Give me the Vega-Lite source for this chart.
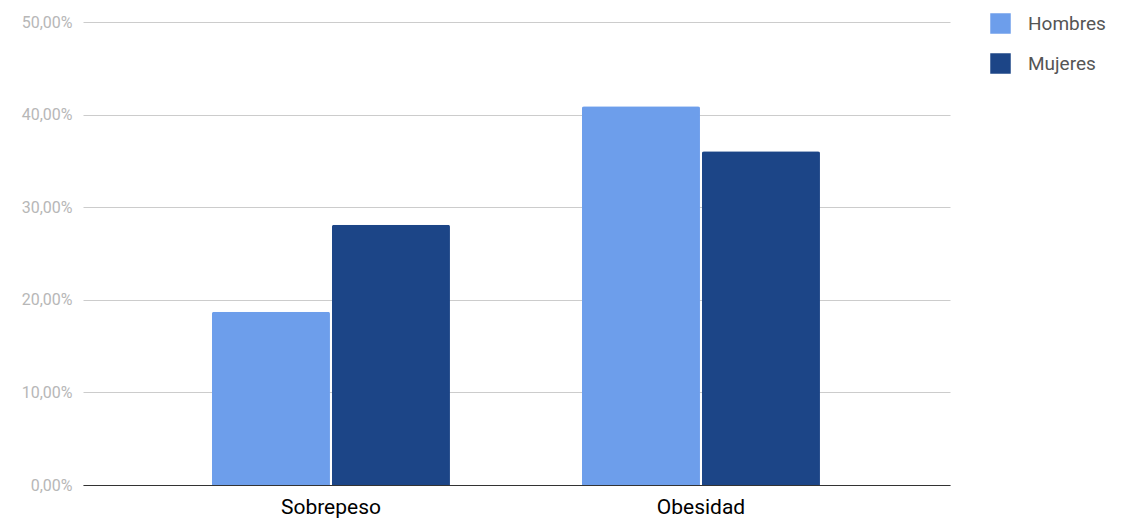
{
  "$schema": "https://vega.github.io/schema/vega-lite/v6.json",
  "autosize": {"type": "none"},
  "padding": {"left": 83, "top": 22, "right": 172, "bottom": 36},
  "width": 867,
  "height": 463,
  "background": "white",
  "data": {
    "values": [
      {"categoria": "Sobrepeso", "sexo": "Hombres", "valor": 0.187},
      {"categoria": "Sobrepeso", "sexo": "Mujeres", "valor": 0.281},
      {"categoria": "Obesidad", "sexo": "Hombres", "valor": 0.409},
      {"categoria": "Obesidad", "sexo": "Mujeres", "valor": 0.3605}
    ]
  },
  "mark": {"type": "bar", "cornerRadiusTopLeft": 2, "cornerRadiusTopRight": 2},
  "encoding": {
    "x": {
      "field": "categoria",
      "type": "nominal",
      "sort": ["Sobrepeso", "Obesidad"],
      "scale": {"paddingInner": 0.3568, "paddingOuter": 0.35, "align": 0.498},
      "axis": {
        "title": null,
        "labelAngle": 0,
        "labelFont": "Roboto",
        "labelFontSize": 21,
        "labelColor": "#000000",
        "labelPadding": 11,
        "ticks": false,
        "domainColor": "#333333",
        "domainWidth": 1
      }
    },
    "xOffset": {
      "field": "sexo",
      "type": "nominal",
      "scale": {"paddingInner": 0.0167, "paddingOuter": 0}
    },
    "y": {
      "field": "valor",
      "type": "quantitative",
      "scale": {"domain": [0, 0.5], "nice": false},
      "axis": {
        "title": null,
        "values": [0, 0.1, 0.2, 0.3, 0.4, 0.5],
        "labelExpr": "replace(format(datum.value, '.2%'), '.', ',')",
        "labelFont": "Roboto",
        "labelFontSize": 16,
        "labelColor": "#b7b7b7",
        "labelPadding": 11,
        "ticks": false,
        "domain": false,
        "gridColor": "#cccccc",
        "gridWidth": 1
      }
    },
    "color": {
      "field": "sexo",
      "type": "nominal",
      "scale": {"domain": ["Hombres", "Mujeres"], "range": ["#6d9eeb", "#1c4587"]},
      "legend": {
        "title": null,
        "orient": "none",
        "legendX": 907,
        "legendY": -9,
        "symbolType": "square",
        "symbolSize": 420,
        "symbolStrokeWidth": 0,
        "symbolOpacity": 1,
        "labelFont": "Roboto",
        "labelFontSize": 19,
        "labelColor": "#555555",
        "labelOffset": 17,
        "rowPadding": 19
      }
    }
  },
  "config": {
    "view": {"stroke": null},
    "font": "Roboto"
  }
}
